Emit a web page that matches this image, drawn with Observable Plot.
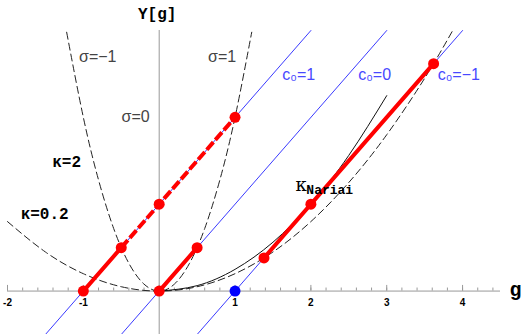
<!DOCTYPE html>
<html><head><meta charset="utf-8">
<script src="https://cdn.jsdelivr.net/npm/d3@7"></script>
<script src="https://cdn.jsdelivr.net/npm/@observablehq/plot@0.6"></script>
<style>body{margin:0;background:#fff}#chart svg{overflow:visible}</style>
</head><body><div id="chart"></div>
<script>
// c0 values of the straight (blue) lines  Υ = g + c0
const c0Values = [1, 0, -1];
const c0Labels = ["c₀=1", "c₀=0", "c₀=−1"];

// κ = 2 parabola (dashed)
const k2X = [-1.22, -1, -0.8, -0.6, -0.4, -0.2, 0, 0.2, 0.4, 0.6, 0.8, 1, 1.22];
const k2Y = [2.98, 2, 1.28, 0.72, 0.32, 0.08, 0, 0.08, 0.32, 0.72, 1.28, 2, 2.98];

// κ = 0.2 parabola (dashed)
const k02X = [-2, -1.5, -1, -0.5, 0, 0.5, 1, 1.5, 2, 2.5, 3, 3.5, 3.87];
const k02Y = [0.8, 0.45, 0.2, 0.05, 0, 0.05, 0.2, 0.45, 0.8, 1.25, 1.8, 2.45, 3.0];

// κ Nariai curve (solid black)
const kNX = [0, 0.5, 1, 1.5, 2, 2.5, 3];
const kNY = [0, 0.0625, 0.25, 0.5625, 1, 1.5625, 2.25];

// red solid segments [x1,y1,x2,y2]
const redSolidX1 = [-1, 0, 1.382];
const redSolidY1 = [0, 0, 0.382];
const redSolidX2 = [-0.5, 0.5, 3.618];
const redSolidY2 = [0.5, 0.5, 2.618];
// red dashed segment
const redDashX = [-0.5, 1];
const redDashY = [0.5, 2];

// red points
const redPtX = [-1, -0.5, 0, 1, 0, 0.5, 1.382, 2, 3.618];
const redPtY = [0, 0.5, 1, 2, 0, 0.5, 0.382, 1, 2.618];
// blue point
const bluePtX = [1];
const bluePtY = [0];

// axis ticks
const majorTicks = [-2, -1, 0, 1, 2, 3, 4];
const tickLabelValues = [-2, -1, 1, 2, 3, 4];
const tickLabels = ["-2", "-1", "1", "2", "3", "4"];

const xDomain = [-2, 4.5];
const yDomain = [-0.5, 3];

const zip = (xs, ys) => xs.map((x, i) => ({x, y: ys[i]}));
const blueLines = c0Values.flatMap((c, i) => [
  {x: yDomain[0] - c, y: yDomain[0], k: i},
  {x: yDomain[1] - c, y: yDomain[1], k: i}
]);
const redSolid = redSolidX1.flatMap((x, i) => [
  {x, y: redSolidY1[i], k: i},
  {x: redSolidX2[i], y: redSolidY2[i], k: i}
]);
const minorTicks = d3.range(-2, 4.5 + 1e-9, 0.2).map(v => Math.round(v * 10) / 10);

// text annotations (position in data space)
const sigmaText = [
  {x: -0.81, y: 2.70, t: "σ=−1"},
  {x: 0.83, y: 2.70, t: "σ=1"},
  {x: -0.31, y: 2.00, t: "σ=0"}
];
const c0TextPos = [{x: 1.84, y: 2.49}, {x: 2.84, y: 2.49}, {x: 3.95, y: 2.49}];
const kappaText = [
  {x: -1.22, y: 1.49, t: "κ=2"},
  {x: -1.51, y: 0.89, t: "κ=0.2"}
];

const mono = "'Liberation Mono', 'DejaVu Sans Mono', monospace";
const sans = "'Liberation Sans', Arial, sans-serif";

const chart = Plot.plot({
  width: 522,
  height: 334,
  marginLeft: 7,
  marginRight: 22,
  marginTop: 30,
  marginBottom: 0,
  x: {domain: xDomain, axis: null},
  y: {domain: yDomain, axis: null},
  style: {background: "white", overflow: "visible"},
  marks: [
    // axes
    Plot.ruleY([0], {x1: xDomain[0], x2: xDomain[1], stroke: "#999", strokeWidth: 1}),
    Plot.ruleX([0], {y1: yDomain[0], y2: yDomain[1], stroke: "#999", strokeWidth: 1}),
    Plot.ruleX(minorTicks, {x: d => d, y1: 0, y2: 0.035, stroke: "#999"}),
    Plot.ruleX(majorTicks, {x: d => d, y1: 0, y2: 0.065, stroke: "#999"}),
    Plot.text(tickLabelValues, {x: d => d, y: 0, dy: 12, text: (d, i) => tickLabels[i], fontSize: 10, fontWeight: "bold", fontFamily: sans, fill: "#000"}),
    // blue lines
    Plot.line(blueLines, {x: "x", y: "y", z: "k", stroke: "#3a3aff", strokeWidth: 1}),
    // dashed parabolas
    Plot.line(zip(k2X, k2Y), {x: "x", y: "y", curve: "natural", stroke: "#222", strokeWidth: 1, strokeDasharray: "7,4"}),
    Plot.line(zip(k02X, k02Y), {x: "x", y: "y", curve: "natural", stroke: "#222", strokeWidth: 1, strokeDasharray: "7,4"}),
    // Nariai
    Plot.line(zip(kNX, kNY), {x: "x", y: "y", curve: "natural", stroke: "#111", strokeWidth: 1}),
    // red segments
    Plot.line(redSolid, {x: "x", y: "y", z: "k", stroke: "#ff0000", strokeWidth: 4}),
    Plot.line(zip(redDashX, redDashY), {x: "x", y: "y", stroke: "#ff0000", strokeWidth: 4, strokeLinecap: "butt", strokeDasharray: "10,3"}),
    Plot.dot(zip(redPtX, redPtY), {x: "x", y: "y", r: 5.5, fill: "#ff0000", stroke: "none"}),
    Plot.dot(zip(bluePtX, bluePtY), {x: "x", y: "y", r: 5.5, fill: "#0000ff", stroke: "none"}),
    // labels
    Plot.text(sigmaText, {x: "x", y: "y", text: "t", fontSize: 16, fontFamily: sans, fill: "#444"}),
    Plot.text(c0TextPos, {x: "x", y: "y", text: (d, i) => c0Labels[i], fontSize: 16, fontFamily: sans, fill: "#4848ff"}),
    Plot.text(kappaText, {x: "x", y: "y", text: "t", fontSize: 16, fontWeight: "bold", fontFamily: mono, fill: "#000"}),
    Plot.text([{x: 1.87, y: 1.22}], {x: "x", y: "y", text: () => "κ", fontSize: 18, fontFamily: "'DejaVu Serif', serif", fill: "#000"}),
    Plot.text([{x: 1.94, y: 1.16}], {x: "x", y: "y", text: () => "Nariai", textAnchor: "start", fontSize: 13, fontWeight: "bold", fontFamily: mono, fill: "#000"}),
    Plot.text([{x: 0, y: yDomain[1]}], {x: "x", y: "y", dy: -17, dx: -2, text: () => "Υ[g]", fontSize: 16, fontWeight: "bold", fontFamily: mono, fill: "#000"}),
    Plot.text([{x: xDomain[1], y: 0}], {x: "x", y: "y", dx: 15, dy: -1, text: () => "g", fontSize: 20, fontWeight: "bold", fontFamily: mono, fill: "#000"})
  ]
});
document.getElementById("chart").appendChild(chart);
</script>
</body></html>
